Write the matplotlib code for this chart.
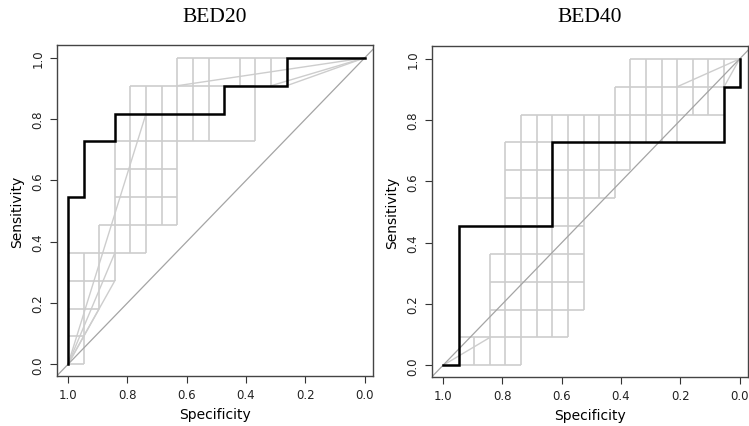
import matplotlib
matplotlib.use("Agg")
import matplotlib.pyplot as plt

# counts: negatives (specificity steps) and positives (sensitivity steps)
N_NEG = 19
N_POS = 11

titles = ["BED20", "BED40"]
tick_values = [0.0, 0.2, 0.4, 0.6, 0.8, 1.0]
tick_labels = ["0.0", "0.2", "0.4", "0.6", "0.8", "1.0"]

# main ROC curves: false-positive count m, true-positive count j
bed20_roc_fp = [0, 0, 1, 1, 3, 3, 10, 10, 14, 14, 19]
bed20_roc_tp = [0, 6, 6, 8, 8, 9, 9, 10, 10, 11, 11]
bed40_roc_fp = [0, 1, 1, 7, 7, 18, 18, 19, 19]
bed40_roc_tp = [0, 0, 5, 5, 8, 8, 10, 10, 11]

# bootstrap ROC pieces (gray): horizontals (j, m_start, m_end)
bed20_h = [(0, 0, 1), (1, 0, 1), (2, 0, 2), (3, 0, 3), (4, 0, 5), (5, 2, 7),
           (6, 3, 7), (7, 3, 7), (8, 3, 12), (10, 4, 12), (11, 7, 14)]
# verticals (m, j_start, j_end)
bed20_v = [(1, 0, 4), (2, 2, 5), (3, 3, 8), (4, 4, 10), (5, 4, 10), (6, 5, 10),
           (7, 5, 11), (8, 8, 11), (9, 8, 11), (11, 10, 11), (12, 8, 11), (13, 10, 11)]
# diagonal ties (m0, j0, m1, j1)
bed20_d = [(0, 0, 5, 9), (0, 0, 3, 4), (0, 0, 3, 3), (0, 0, 2, 2),
           (7, 10, 19, 11), (13, 10, 19, 11), (14, 10, 19, 11)]

bed40_h = [(0, 1, 5), (1, 1, 8), (2, 3, 9), (3, 3, 9), (4, 3, 9), (5, 4, 9),
           (6, 4, 11), (7, 4, 12), (8, 4, 7), (9, 5, 18), (10, 11, 18), (11, 12, 19)]
bed40_v = [(2, 0, 1), (3, 0, 4), (4, 0, 8), (5, 0, 9), (6, 1, 9), (7, 1, 9), (8, 1, 9),
           (9, 2, 9), (10, 6, 9), (11, 6, 10), (12, 7, 11), (13, 8, 11), (14, 8, 11),
           (15, 8, 11), (16, 9, 11), (17, 9, 11), (18, 10, 11)]
bed40_d = [(0, 0, 3, 1), (15, 10, 19, 11), (18, 10, 19, 11)]

panels = [
    (bed20_roc_fp, bed20_roc_tp, bed20_h, bed20_v, bed20_d),
    (bed40_roc_fp, bed40_roc_tp, bed40_h, bed40_v, bed40_d),
]

def spec(m):
    return 1 - m / N_NEG

def sens(j):
    return j / N_POS

fig = plt.figure(figsize=(7.49, 4.27), dpi=100)
rects = [[57 / 749, 1 - 377 / 427, 316 / 749, 331 / 427],
         [432 / 749, 1 - 378 / 427, 316 / 749, 331 / 427]]

GRAY = "#cdcdcd"
for rect, title, (fp, tp, hs, vs, ds) in zip(rects, titles, panels):
    ax = fig.add_axes(rect)
    for j, m0, m1 in hs:
        ax.plot([spec(m0), spec(m1)], [sens(j), sens(j)], color=GRAY, lw=1.2,
                solid_capstyle="butt", zorder=1)
    for m, j0, j1 in vs:
        ax.plot([spec(m), spec(m)], [sens(j0), sens(j1)], color=GRAY, lw=1.2,
                solid_capstyle="butt", zorder=1)
    for m0, j0, m1, j1 in ds:
        ax.plot([spec(m0), spec(m1)], [sens(j0), sens(j1)], color=GRAY, lw=1.0,
                zorder=1)
    ax.axline((1, 0), (0, 1), color="#a4a4a4", lw=0.9, zorder=2)
    ax.plot([spec(m) for m in fp], [sens(j) for j in tp], color="black", lw=1.8,
            zorder=3, solid_joinstyle="miter")
    ax.set_xlim(1.037, -0.028)
    ax.set_ylim(-0.038, 1.042)
    ax.set_xticks(tick_values)
    ax.set_xticklabels(tick_labels)
    ax.set_yticks(tick_values)
    ax.set_yticklabels(tick_labels, rotation=90, va="center")
    ax.tick_params(direction="out", length=5, width=0.8, colors="#333333",
                   labelsize=8.5, labelcolor="#222222", pad=4)
    for s in ax.spines.values():
        s.set_color("#444444")
        s.set_linewidth(1.0)
    ax.set_xlabel("Specificity", fontsize=10, family="DejaVu Sans", labelpad=4)
    ax.set_ylabel("Sensitivity", fontsize=10, family="DejaVu Sans", labelpad=5)
    cx = rect[0] + rect[2] / 2
    fig.text(cx, 1 - 18 / 427, title, ha="center", va="center",
             family="Liberation Serif", fontsize=15.5)

fig.savefig("out.png", dpi=100, facecolor="white")
